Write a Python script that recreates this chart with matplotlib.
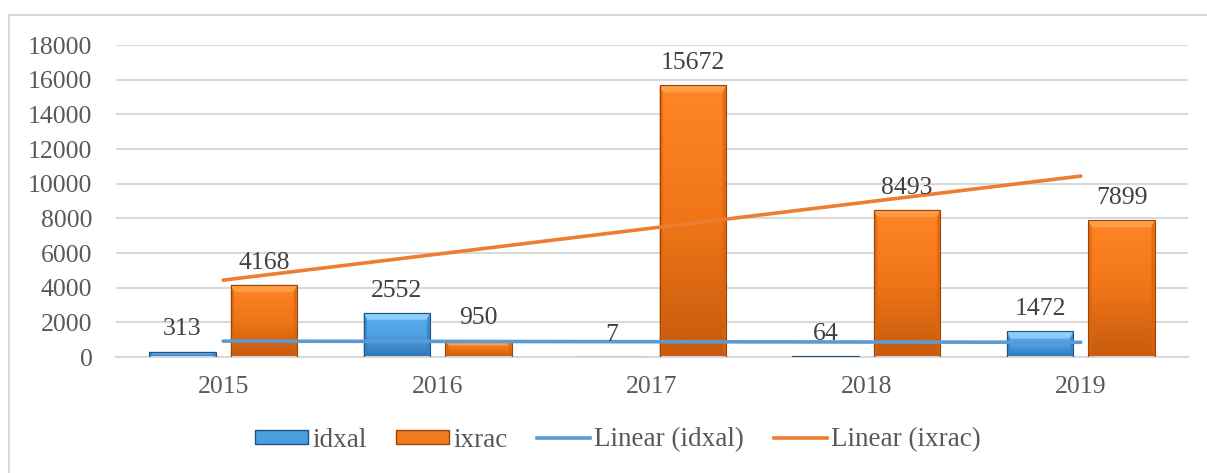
import matplotlib.pyplot as plt
import numpy as np
from matplotlib.patches import Polygon, Rectangle, Patch
from matplotlib.lines import Line2D
from matplotlib.colors import LinearSegmentedColormap

years = ["2015", "2016", "2017", "2018", "2019"]
idxal = [313, 2552, 7, 64, 1472]
ixrac = [4168, 950, 15672, 8493, 7899]
y_ticks = [0, 2000, 4000, 6000, 8000, 10000, 12000, 14000, 16000, 18000]

plt.rcParams["font.family"] = ["Liberation Serif", "DejaVu Serif"]

W, H = 1207, 473
fig = plt.figure(figsize=(W / 100, H / 100), dpi=100)
ax = fig.add_axes([116 / W, 1 - 357 / H, (1188 - 116) / W, (357 - 45) / H])

# chart area border (cut off at right and bottom)
fig.patches.append(Rectangle((9 / W, -0.05), 1.1, 1 - 15 / H + 0.05,
                             transform=fig.transFigure, fill=False,
                             edgecolor="#d9d9d9", linewidth=1.5, zorder=0))

x = np.arange(len(years))
width = 0.31
offset = 0.19

styles = {
    "idxal": dict(grad=["#2f74b8", "#4ea3e6", "#5ab0f0"], top="#8fd3fb", side="#3580c4", edge="#24527f"),
    "ixrac": dict(grad=["#c75a0c", "#ef7518", "#ff8526"], top="#ffa24a", side="#d8650f", edge="#9a4608"),
}

px_per_unit = (357 - 45) / 18000


def shade_bars(bars, st):
    cmap = LinearSegmentedColormap.from_list("g", st["grad"])
    grad = np.linspace(0, 1, 256).reshape(-1, 1)
    for b in bars:
        x0, w, h = b.get_x(), b.get_width(), b.get_height()
        if h <= 0:
            continue
        im = ax.imshow(grad, cmap=cmap, extent=(x0, x0 + w, 0, h), origin="lower",
                       aspect="auto", zorder=2.5, interpolation="bicubic")
        im.set_clip_path(b)
        bev = min(7 / px_per_unit, h * 0.3)
        bx = w * 0.05
        ax.add_patch(Polygon([(x0, h), (x0 + w, h), (x0 + w - bx, h - bev), (x0 + bx, h - bev)],
                             closed=True, facecolor=st["top"], edgecolor="none", alpha=0.9, zorder=3))
        for xa, xb in ((x0, x0 + bx), (x0 + w, x0 + w - bx)):
            ax.add_patch(Polygon([(xa, 0), (xb, min(bev, h * 0.2)), (xb, h - bev), (xa, h)],
                                 closed=True, facecolor=st["side"], alpha=0.7, edgecolor="none", zorder=3))
        ax.add_patch(Rectangle((x0, 0), w, h, fill=False, edgecolor=st["edge"], linewidth=0.8, zorder=3.2))


b1 = ax.bar(x - offset, idxal, width, color=styles["idxal"]["grad"][1], linewidth=0, zorder=2)
b2 = ax.bar(x + offset, ixrac, width, color=styles["ixrac"]["grad"][1], linewidth=0, zorder=2)
shade_bars(b1, styles["idxal"])
shade_bars(b2, styles["ixrac"])

for bars, vals in ((b1, idxal), (b2, ixrac)):
    for b, v in zip(bars, vals):
        ax.annotate(f"{v}", (b.get_x() + b.get_width() / 2, v), xytext=(0, 8),
                    textcoords="offset points", ha="center", va="bottom",
                    fontsize=18.5, color="#404040", zorder=5)

# linear trendlines
for vals, col in ((idxal, "#5b9bd5"), (ixrac, "#ed7d31")):
    k, c = np.polyfit(x, vals, 1)
    ax.plot(x, k * x + c, color=col, linewidth=2.6, solid_capstyle="round", zorder=4)

ax.set_xlim(-0.5, len(years) - 0.5)
ax.set_ylim(0, 18000)
ax.set_yticks(y_ticks)
ax.set_xticks(x)
ax.set_xticklabels(years)
ax.tick_params(axis="both", length=0, labelsize=18.5, labelcolor="#595959")
ax.tick_params(axis="x", pad=14)
ax.tick_params(axis="y", pad=17)
ax.yaxis.grid(True, color="#d9d9d9", linewidth=1.5, zorder=0)
ax.set_axisbelow(True)
for s in ("top", "right", "left"):
    ax.spines[s].set_visible(False)
ax.spines["bottom"].set_color("#d9d9d9")
ax.spines["bottom"].set_linewidth(1.5)

handles = [
    Patch(facecolor="#4a9fe2", edgecolor=styles["idxal"]["edge"]),
    Patch(facecolor="#f07a1c", edgecolor=styles["ixrac"]["edge"]),
    Line2D([], [], color="#5b9bd5", linewidth=2.6),
    Line2D([], [], color="#ed7d31", linewidth=2.6),
]
labels = ["idxal", "ixrac", "Linear (idxal)", "Linear (ixrac)"]
fig.legend(handles, labels, loc="center", bbox_to_anchor=(618 / W, 1 - 440 / H),
           ncol=4, frameon=False, fontsize=19.5, labelcolor="#595959",
           handlelength=1.95, handleheight=0.45, handletextpad=0.15, columnspacing=1.1)

fig.savefig("out.png", dpi=100)
